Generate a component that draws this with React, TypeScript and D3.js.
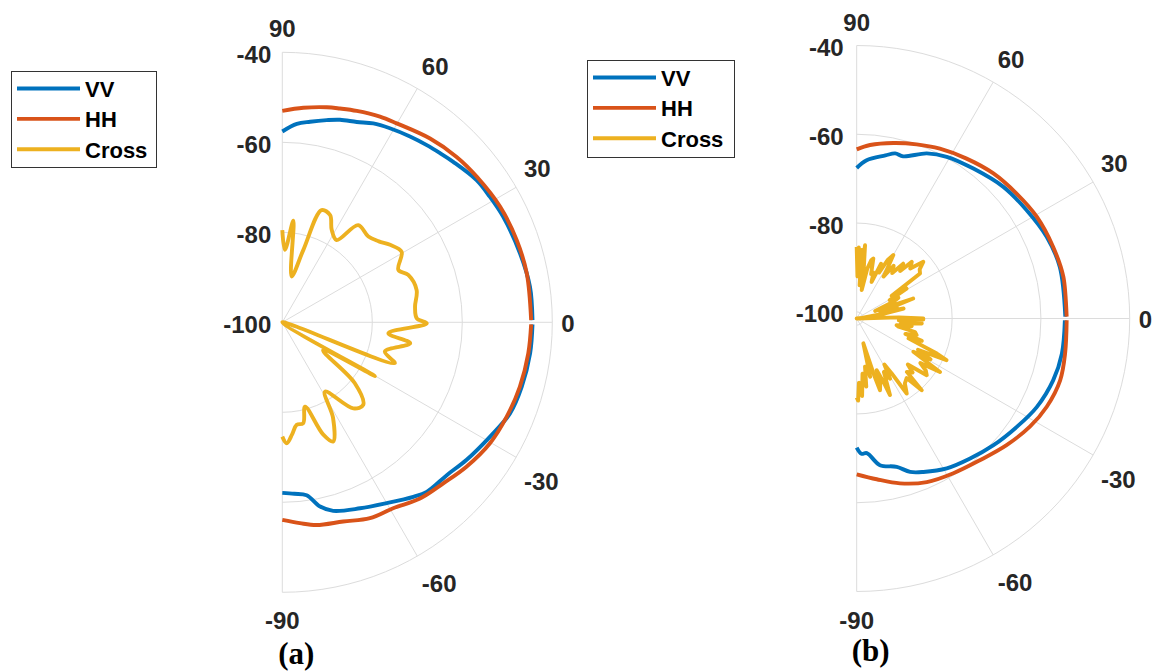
import React from 'react';
import * as d3 from 'd3';

type Pt = [number, number];

const THETA_TICKS = [90, 60, 30, 0, -30, -60, -90];
const R_TICKS = [-40, -60, -80, -100];
const R_MAX = -40;
const SERIES_NAMES = ['VV', 'HH', 'Cross'];
const SERIES_COLORS = ['#0072BD', '#D95319', '#EDB120'];
const CAPTIONS = ['(a)', '(b)'];

// ---- panel (a) : [theta deg, level dB] ----
const VV_A: Pt[] = [
  [90, -57.6], [85.8, -55.8], [82.1, -55.0], [77.6, -54.0], [74.1, -53.2], [69.6, -52.5],
  [65.4, -51.4], [61, -50.7], [55.5, -49.9], [50.8, -49.2], [47, -48.6], [43.2, -47.9],
  [36.2, -46.5], [31.2, -46.1], [25.5, -45.6], [16.2, -45.0], [8.2, -44.4], [0.5, -44.4],
  [0, NaN],
  [-0.5, -44.4], [-7.1, -44.5], [-15.1, -44.9], [-21.8, -45.5], [-28.8, -47.3], [-36.7, -48.9],
  [-42.9, -50.1], [-49.6, -50.5], [-53.1, -51.5], [-60, -53.6], [-67.3, -55.2], [-74.9, -56.6],
  [-78.4, -58.2], [-82, -61.2], [-86, -61.8], [-90, -62.1],
];
const HH_A: Pt[] = [
  [90, -53.0], [84.4, -52.1], [78.3, -51.2], [74.9, -50.8], [70.6, -50.2], [64.6, -49.4],
  [60.1, -49.0], [51.2, -47.6], [43.5, -46.6], [36.8, -46.0], [28, -45.2], [19.3, -44.8],
  [11.3, -44.6], [0.5, -44.7],
  [0, NaN],
  [-0.5, -44.7], [-7.2, -44.9], [-15.2, -45.3], [-22.8, -45.9], [-30.2, -46.6], [-38.1, -48.0],
  [-45, -49.4], [-52, -50.3], [-59.2, -51.9], [-65.9, -52.3], [-73, -53.7], [-80.4, -54.3],
  [-85, -55.2], [-90, -56.1],
];
const CROSS_A: Pt[] = [
  [90, -79.5], [87.9, -83.9], [83.8, -77.3], [78.5, -89.6], [73.8, -83.3], [70.7, -73.6],
  [66, -73.9], [61.9, -76.7], [56.6, -78.1], [52, -72.6], [44.9, -73.0], [40, -72.0],
  [35.7, -70.5], [30.6, -69.2], [24.3, -71.7], [20.6, -70.1], [13.5, -69.3], [6.7, -70.3],
  [1.7, -70.1], [-0.4, -67.9], [-5.9, -76.3], [-9.3, -71.2], [-15.9, -76.3], [-20, -73.4],
  [-22, -101], [-30.1, -76.2], [-34.5, -89], [-40, -79], [-45.6, -74.3], [-50.5, -75.2],
  [-58.4, -81.9], [-62, -76], [-66.9, -71.2], [-70, -73.5], [-74.9, -80.6], [-78.3, -77.1],
  [-82, -77.0], [-85, -75], [-87.9, -73.1], [-90, -74.6],
];

// ---- panel (b) ----
const VV_B: Pt[] = [
  [90, -67.6], [86.4, -65.8], [80, -64.2], [76.9, -63.3], [74, -63.5], [67, -61.1],
  [60.9, -59.8], [52.1, -58.7], [41.9, -57.1], [32.5, -56.1], [23.2, -54.9], [14.2, -54.3],
  [0.5, -54.5],
  [0, NaN],
  [-0.5, -54.6], [-9.7, -54.6], [-17.4, -55.1], [-26.2, -56.3], [-34.1, -57.95], [-42.8, -59.5],
  [-51, -60.9], [-59, -62.1], [-66.5, -63.8], [-70.8, -64.9], [-74.9, -66.9], [-81, -68.05],
  [-85.7, -71.1], [-88, -71.0], [-90, -72.4],
];
const HH_B: Pt[] = [
  [90, -63.4], [85.6, -62.3], [78.2, -61.1], [71, -60.0], [63.9, -58.9], [55.5, -57.8],
  [46.7, -56.6], [38, -55.8], [29.4, -54.9], [20, -54.4], [11.4, -54.0], [0.5, -54.2],
  [0, NaN],
  [-0.5, -54.2], [-9.5, -53.9], [-16.9, -53.6], [-24.9, -54.3], [-32, -55.5], [-40.2, -57.3],
  [-49, -59.2], [-58, -60.4], [-66.8, -61.4], [-75.3, -63.1], [-82.9, -65.0], [-90, -66.4],
];
const CROSS_B: Pt[] = [
  [90, -85.4], [89, -92], [88.3, -85.5], [87, -91], [85.8, -86], [85, -94], [83.5, -84.9],
  [82, -90], [80, -95], [78, -90], [76, -88], [74.5, -87.5], [72, -91], [70, -90.5],
  [67.8, -92.6], [66, -88], [64, -90], [62, -86.5], [60, -85.0], [58, -89], [57.4, -90.3],
  [55, -87], [52, -88.5], [49.7, -85.3], [47.5, -87], [45.8, -83.7], [43, -85], [40.4, -81.8],
  [38, -83.5], [35.4, -84.0], [34, -90], [33, -92.1], [31, -88.4], [29, -93], [26.5, -91],
  [24.5, -92.4], [22, -97], [19.5, -88], [18, -93], [16.2, -92.1], [14, -96], [12, -90.7],
  [10, -95], [8, -100], [5, -97], [3, -101.5], [1.5, -92], [0, -86.5], [-0.9, -86.5],
  [-2.5, -92], [-4.4, -86.8], [-6, -91.5], [-8, -89], [-9.5, -92.4], [-11, -91.9], [-13, -88],
  [-15.5, -87.5], [-17.5, -90], [-19, -86], [-21, -89], [-23.6, -81.8], [-24.9, -79.2],
  [-27, -86], [-29, -82.5], [-30.4, -86.7], [-32.7, -79.2], [-35, -84], [-37, -82],
  [-39, -81.2], [-42, -86], [-44, -84], [-46.8, -85.0], [-47.8, -79.7], [-50, -84],
  [-53.4, -83.3], [-56.3, -81.2], [-57.5, -86.9], [-59, -89.4], [-61, -86], [-63, -88],
  [-66.5, -82.7], [-67.1, -86], [-68.9, -89], [-70, -86], [-72, -84.5], [-73, -88.5],
  [-75, -95.7], [-77, -88], [-78.5, -90.5], [-80.2, -90.5], [-82, -86], [-84, -89],
  [-86, -84], [-88, -87], [-89, -83], [-90, -83.7],
];

const PANEL_DATA: Pt[][][] = [
  [VV_A, HH_A, CROSS_A],
  [VV_B, HH_B, CROSS_B],
];
const PANEL_RMIN = [-100, -101.5];

// ---- layout ----
const W = 1158;
const H = 672;
const LAYOUT = [
  { cx: 282.3, cy: 322.3, R: 270, lx: 11, ly: 71, lw: 145, lh: 96, jaggedCross: false },
  { cx: 856.7, cy: 318.5, R: 273, lx: 587, ly: 60, lw: 147, lh: 97, jaggedCross: true },
];
const FONT = '"Liberation Sans", Arial, Helvetica, sans-serif';
const TICK_FS = 24;
const LEG_FS = 22;
const TEXT_COLOR = '#262626';
const GRID_COLOR = '#dcdcdc';
const LINE_W = 3.9;

const rad = (deg: number) => (deg * Math.PI) / 180;

function Panel({ idx }: { idx: number }) {
  const { cx, cy, R, lx, ly, lw, lh, jaggedCross } = LAYOUT[idx];
  const rMin = PANEL_RMIN[idx];
  const rScale = d3.scaleLinear().domain([rMin, R_MAX]).range([0, R]).clamp(true);
  const data = PANEL_DATA[idx];

  const smooth = d3
    .lineRadial<Pt>()
    .angle((d) => rad(90 - d[0]))
    .radius((d) => rScale(d[1]))
    .defined((d) => !isNaN(d[1]))
    .curve(d3.curveCatmullRom.alpha(0.5));
  const jagged = d3
    .lineRadial<Pt>()
    .angle((d) => rad(90 - d[0]))
    .radius((d) => rScale(d[1]))
    .defined((d) => !isNaN(d[1]))
    .curve(d3.curveLinear);

  const circles = R_TICKS.map((v) => {
    const r = rScale(v);
    if (r < 0.5) return '';
    const p = d3.path();
    p.moveTo(0, -r);
    p.arc(0, 0, r, -Math.PI / 2, Math.PI / 2, false);
    return p.toString();
  });

  const labelR = R + 9;

  return (
    <g>
      <g transform={`translate(${cx},${cy})`}>
        {circles.map((d, i) =>
          d ? <path key={'c' + i} d={d} fill="none" stroke={GRID_COLOR} strokeWidth={1} /> : null
        )}
        {THETA_TICKS.map((t) => (
          <line
            key={'t' + t}
            x1={0}
            y1={0}
            x2={R * Math.cos(rad(t))}
            y2={-R * Math.sin(rad(t))}
            stroke={GRID_COLOR}
            strokeWidth={1}
          />
        ))}
        {data.map((series, i) => (
          <path
            key={'s' + i}
            d={(i === 2 && jaggedCross ? jagged : smooth)(series) || ''}
            fill="none"
            stroke={SERIES_COLORS[i]}
            strokeWidth={LINE_W}
            strokeLinejoin="round"
            strokeLinecap="butt"
          />
        ))}
        {THETA_TICKS.map((t) => {
          const c = Math.cos(rad(t));
          const s = Math.sin(rad(t));
          const vertical = Math.abs(c) < 0.01;
          const yOff = s > 0.01 ? -14.5 : s < -0.01 ? 19.5 : 1;
          return (
            <text
              key={'tl' + t}
              x={labelR * c}
              y={-labelR * s + yOff}
              textAnchor={vertical ? 'middle' : 'start'}
              dominantBaseline="central"
              fontFamily={FONT}
              fontWeight="bold"
              fontSize={TICK_FS}
              fill={TEXT_COLOR}
            >
              {t}
            </text>
          );
        })}
        {R_TICKS.map((v) => (
          <text
            key={'rl' + v}
            x={-11 - idx * 2}
            y={-rScale(v) + 2}
            textAnchor="end"
            dominantBaseline="central"
            fontFamily={FONT}
            fontWeight="bold"
            fontSize={TICK_FS}
            fill={TEXT_COLOR}
          >
            {v}
          </text>
        ))}
        <text
          x={14}
          y={342}
          textAnchor="middle"
          fontFamily='"Liberation Serif", "Times New Roman", serif'
          fontWeight="bold"
          fontSize={31}
          fill="#000"
        >
          {CAPTIONS[idx]}
        </text>
      </g>
      <g transform={`translate(${lx},${ly})`}>
        <rect x={0.5} y={0.5} width={lw} height={lh} fill="#fff" stroke="#333" strokeWidth={1} />
        {SERIES_NAMES.map((name, i) => {
          const y = 17.5 + i * 30.4;
          return (
            <g key={'lg' + i}>
              <line x1={6} x2={69} y1={y} y2={y} stroke={SERIES_COLORS[i]} strokeWidth={LINE_W} />
              <text
                x={74}
                y={y + 1}
                dominantBaseline="central"
                fontFamily={FONT}
                fontWeight="bold"
                fontSize={LEG_FS}
                fill="#000"
              >
                {name}
              </text>
            </g>
          );
        })}
      </g>
    </g>
  );
}

export default function App() {
  return (
    <svg
      width={W}
      height={H}
      viewBox={`0 0 ${W} ${H}`}
      style={{ position: 'absolute', left: 0, top: 0, background: '#fff' }}
    >
      <rect x={0} y={0} width={W} height={H} fill="#fff" />
      <Panel idx={0} />
      <Panel idx={1} />
    </svg>
  );
}
